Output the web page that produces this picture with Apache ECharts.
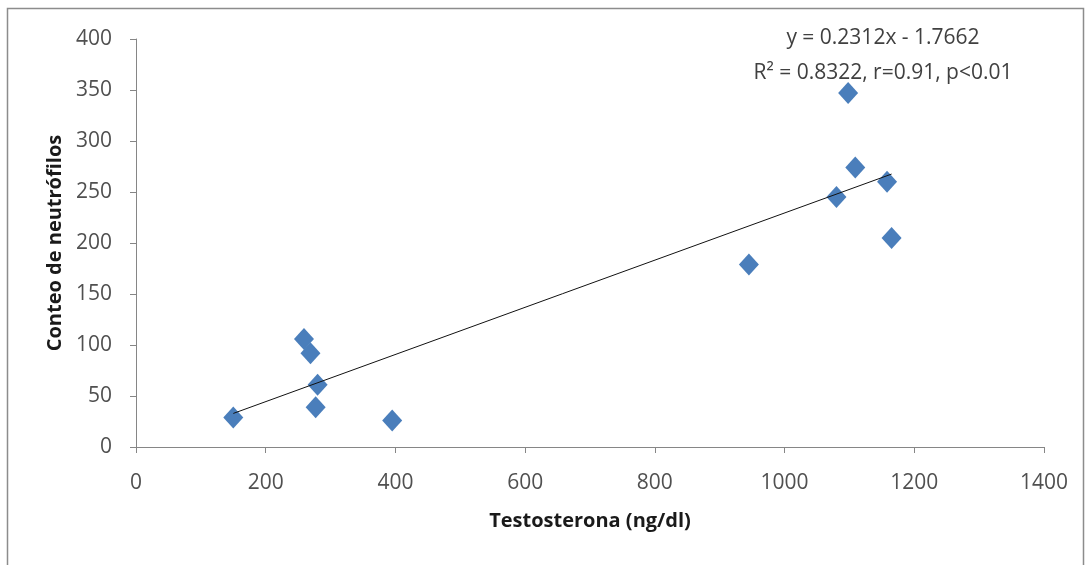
<!DOCTYPE html>
<html>
<head>
<meta charset="utf-8">
<script src="https://cdn.jsdelivr.net/npm/echarts@6/dist/echarts.min.js"></script>
<style>
  html, body { margin: 0; padding: 0; background: #fff; }
  #chart { width: 1090px; height: 565px; }
</style>
</head>
<body>
<div id="chart"></div>
<script>
// testosterona (ng/dl) vs conteo de neutrófilos
const testosterona = [150, 259, 269, 280, 277, 395, 945, 1080, 1098, 1109, 1158, 1165]
const neutrofilos = [29, 106, 92, 61, 39, 26, 179, 245, 347, 274, 260, 205]
const trendSlope = 0.2312
const trendIntercept = -1.7662
const eqLines = ['y = 0.2312x - 1.7662', 'R\u00b2 = 0.8322, r=0.91, p<0.01']
const xTicks = { min: 0, max: 1400, interval: 200 }
const yTicks = { min: 0, max: 400, interval: 50 }

const font = '"Open Sans", "Noto Sans", sans-serif'
const points = testosterona.map((x, i) => [x, neutrofilos[i]])
const xMin = Math.min(...testosterona)
const xMax = Math.max(...testosterona)
const trend = [xMin, xMax].map((x) => [x, trendSlope * x + trendIntercept])

const chart = echarts.init(document.getElementById('chart'))
chart.setOption({
  animation: false,
  grid: { left: 136, right: 46, top: 39, bottom: 118 },
  graphic: [
    {
      type: 'rect',
      shape: { x: 7.5, y: 8.5, width: 1076, height: 570 },
      style: { fill: 'none', stroke: '#8c8c8c', lineWidth: 1.5 },
      silent: true
    },
    {
      type: 'text',
      x: 883, y: 56,
      style: {
        text: eqLines.join('\n'), align: 'center', verticalAlign: 'middle',
        font: '21px ' + font, fill: '#404040', lineHeight: 35
      }
    }
  ],
  xAxis: {
    type: 'value', ...xTicks,
    name: 'Testosterona (ng/dl)', nameLocation: 'middle', nameGap: 64,
    nameTextStyle: { fontFamily: font, fontWeight: 'bold', fontSize: 20, color: '#1a1a1a' },
    axisLine: { lineStyle: { color: '#868686', width: 1 } },
    axisTick: { show: true, inside: false, length: 6, lineStyle: { color: '#868686' } },
    axisLabel: { fontFamily: font, fontSize: 21, color: '#505050', margin: 26, formatter: (v) => String(v) },
    splitLine: { show: false }
  },
  yAxis: {
    type: 'value', ...yTicks,
    name: 'Conteo de neutrófilos', nameLocation: 'middle', nameGap: 64, nameRotate: 90,
    nameTextStyle: { fontFamily: font, fontWeight: 'bold', fontSize: 20, color: '#1a1a1a' },
    axisLine: { show: true, lineStyle: { color: '#868686', width: 1 } },
    axisTick: { show: true, inside: false, length: 6, lineStyle: { color: '#868686' } },
    axisLabel: { fontFamily: font, fontSize: 21, color: '#505050', margin: 24, formatter: (v) => String(v) },
    splitLine: { show: false }
  },
  series: [
    {
      type: 'line',
      data: trend,
      symbol: 'none',
      lineStyle: { color: '#111', width: 1 },
      silent: true,
      z: 3
    },
    {
      type: 'scatter',
      data: points,
      symbol: 'diamond',
      symbolSize: [20, 22],
      itemStyle: { color: '#4a7ebb', opacity: 1 },
      z: 2
    }
  ]
})
</script>
</body>
</html>
